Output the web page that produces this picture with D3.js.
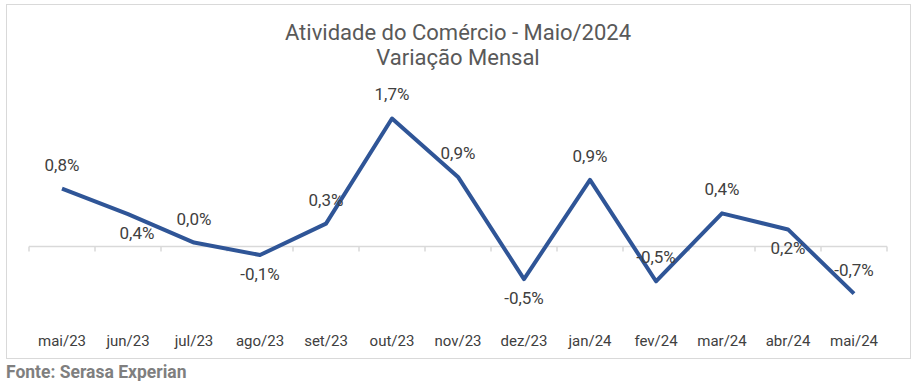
<!DOCTYPE html>
<html>
<head>
<meta charset="utf-8">
<script src="https://cdn.jsdelivr.net/npm/d3@7"></script>
<style>
  body { margin: 0; background: #fff; }
  text { font-family: Roboto, "Noto Sans", sans-serif; }
  .title { fill: #595959; font-size: 22px; text-anchor: middle; }
  .dotinfo { fill: #404040; font-size: 17px; text-anchor: middle; }
  .cat { fill: #404040; font-size: 15px; text-anchor: middle; }
  .fonte { fill: #7f7f7f; font-size: 17.5px; font-weight: bold; }
</style>
</head>
<body>
<script>
//// DATA
var months = ["mai/23", "jun/23", "jul/23", "ago/23", "set/23", "out/23", "nov/23",
              "dez/23", "jan/24", "fev/24", "mar/24", "abr/24", "mai/24"];
var values = [0.78, 0.43, 0.04, -0.13, 0.3, 1.74, 0.94, -0.46, 0.9, -0.49, 0.44, 0.22, -0.66];
// where Excel put each label: above or below the point
var labelPos = ["a", "b", "a", "b", "a", "a", "a", "b", "a", "a", "a", "b", "a"];
var titleLines = ["Atividade do Comércio - Maio/2024", "Variação Mensal"];
var yDomain = [-1, 2];

//// DIMENSIONS
var width = 915, height = 381;

var xScale = d3.scaleBand().domain(months).range([29, 887]).padding(0),
    xMap = function(d, i) { return xScale(months[i]) + xScale.bandwidth() / 2; };
var yScale = d3.scaleLinear().domain(yDomain).range([318.5, 99.5]),
    yMap = function(d) { return yScale(d); };

// pt-BR number format, plain hyphen for negatives
var ptBR = d3.formatLocale({
    decimal: ",", thousands: ".", grouping: [3], currency: ["R$", ""], minus: "-"
});
var fmt = function(d) { return ptBR.format(".1f")(d) + "%"; };

var svg = d3.select("body").append("svg")
    .attr("width", width)
    .attr("height", height);

// chart frame
svg.append("rect")
    .attr("x", 6.5).attr("y", 4.5)
    .attr("width", 904).attr("height", 354)
    .attr("fill", "none")
    .attr("stroke", "#d9d9d9");

// title
svg.selectAll(".title")
    .data(titleLines)
  .enter().append("text")
    .attr("class", "title")
    .attr("x", 458)
    .attr("y", function(d, i) { return 40 + i * 25; })
    .text(function(d) { return d; });

// zero axis with tick marks between categories
var y0 = Math.round(yScale(0)) + 0.5;
svg.append("line")
    .attr("x1", xScale.range()[0]).attr("x2", xScale.range()[1])
    .attr("y1", y0).attr("y2", y0)
    .attr("stroke", "#d9d9d9").attr("stroke-width", 1.5);

var tickX = months.map(function(m) { return xScale(m); }).concat([xScale.range()[1]]);
svg.selectAll(".tick")
    .data(tickX)
  .enter().append("line")
    .attr("class", "tick")
    .attr("x1", function(d) { return d; }).attr("x2", function(d) { return d; })
    .attr("y1", y0).attr("y2", y0 + 5)
    .attr("stroke", "#d9d9d9").attr("stroke-width", 1.5);

// category labels (at the bottom, Excel "low" position)
svg.selectAll(".cat")
    .data(months)
  .enter().append("text")
    .attr("class", "cat")
    .attr("x", function(d) { return xScale(d) + xScale.bandwidth() / 2; })
    .attr("y", 346)
    .text(function(d) { return d; });

// line
var line = d3.line()
    .x(xMap)
    .y(yMap);

svg.append("path")
    .datum(values)
    .attr("d", line)
    .attr("fill", "none")
    .attr("stroke", "#2f5597")
    .attr("stroke-width", 4)
    .attr("stroke-linejoin", "round");

// data labels
svg.selectAll(".dotinfo")
    .data(values)
  .enter().append("text")
    .attr("class", "dotinfo")
    .attr("x", function(d, i) { return xMap(d, i) + (i == 1 ? 9 : 0); })
    .attr("y", function(d, i) {
        return labelPos[i] == "a" ? yMap(d) - 18 : yMap(d) + 25;
    })
    .text(fmt);

// source
svg.append("text")
    .attr("class", "fonte")
    .attr("x", 6)
    .attr("y", 378)
    .text("Fonte: Serasa Experian");
</script>
</body>
</html>
